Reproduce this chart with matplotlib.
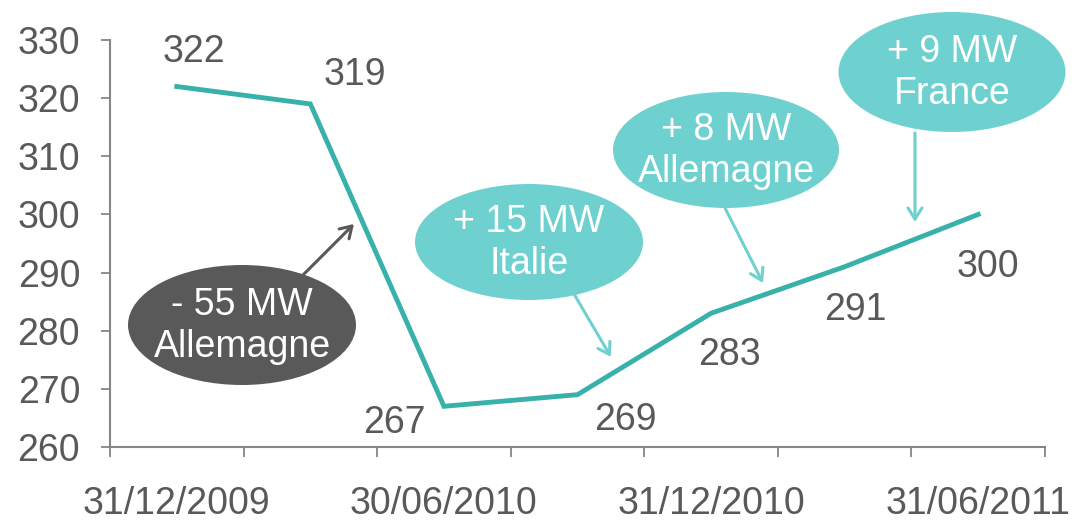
import matplotlib.pyplot as plt
from matplotlib.patches import Ellipse, FancyArrowPatch

plt.rcParams['font.family'] = ['Liberation Sans', 'DejaVu Sans']

# data
dates = ['31/12/2009', '', '30/06/2010', '', '31/12/2010', '', '31/06/2011']
mw = [322, 319, 267, 269, 283, 291, 300]
notes = ['- 55 MW\nAllemagne', '+ 15 MW\nItalie', '+ 8 MW\nAllemagne', '+ 9 MW\nFrance']

W, H = 1077, 520
LINE = '#38b1aa'
LIGHT = '#6fd1cf'
DARK = '#595959'
AXC = '#868686'
FS = 27

fig = plt.figure(figsize=(W / 100, H / 100), dpi=100)
ax = fig.add_axes([110 / W, 1 - 447 / H, (1045 - 110) / W, (447 - 40) / H])

x = list(range(len(mw)))
ax.plot(x, mw, color=LINE, lw=3.5, solid_joinstyle='miter', zorder=3)

ax.set_xlim(-0.5, len(mw) - 0.5)
ax.set_ylim(260, 330)
ax.set_yticks(range(260, 331, 10))
ax.tick_params(axis='y', length=6.5, width=1.3, color=AXC, labelsize=FS,
               labelcolor=DARK, pad=15)

# tick marks between categories, labels on every other category
ax.set_xticks([i - 0.5 for i in range(len(mw) + 1)])
ax.set_xticklabels([])
ax.tick_params(axis='x', which='major', length=7, width=1.3, color=AXC)
lab_pos = [i for i, d in enumerate(dates) if d]
ax.set_xticks(lab_pos, minor=True)
ax.set_xticklabels([dates[i] for i in lab_pos], minor=True)
ax.tick_params(axis='x', which='minor', length=0, labelsize=FS,
               labelcolor=DARK, pad=28)

for s in ['top', 'right']:
    ax.spines[s].set_visible(False)
for s in ['left', 'bottom']:
    ax.spines[s].set_color(AXC)
    ax.spines[s].set_linewidth(1.5)

# data labels (offsets in pixels: right, up)
offs = [(17, 35), (44, 29), (-50, -17), (48, -25), (18, -42), (11, -43), (10, -53)]
for xi, v, (dx, dy) in zip(x, mw, offs):
    ax.annotate(str(v), (xi, v), xytext=(dx * 0.72, dy * 0.72),
                textcoords='offset points', ha='center', va='center',
                fontsize=FS, color=DARK)


def fp(px, py):
    return (px / W, 1 - py / H)


# callouts: (center, size, fill, arrow start, arrow end) in pixels
callouts = [
    ((242, 325), (228, 120), DARK, (300, 278), (354, 224)),
    ((529, 242), (228, 116), LIGHT, (574, 294), (611, 357)),
    ((726, 150), (226, 116), LIGHT, (725, 208), (763, 283)),
    ((952, 72), (227, 120), LIGHT, (915, 133), (915, 222)),
]
for note, (c, sz, col, a0, a1) in zip(notes, callouts):
    e = Ellipse(fp(*c), sz[0] / W, sz[1] / H, transform=fig.transFigure,
                facecolor=col, edgecolor='none', zorder=5)
    fig.add_artist(e)
    fig.text(*fp(c[0], c[1] + 1), note, ha='center', va='center',
             color='white', fontsize=FS, linespacing=1.2, zorder=6)
    arr = FancyArrowPatch(fp(*a0), fp(*a1), transform=fig.transFigure,
                          arrowstyle='->,head_length=8,head_width=5',
                          color=col, lw=2.2, shrinkA=0, shrinkB=0,
                          mutation_scale=1, zorder=5)
    fig.add_artist(arr)

fig.savefig('out.png', dpi=100)
